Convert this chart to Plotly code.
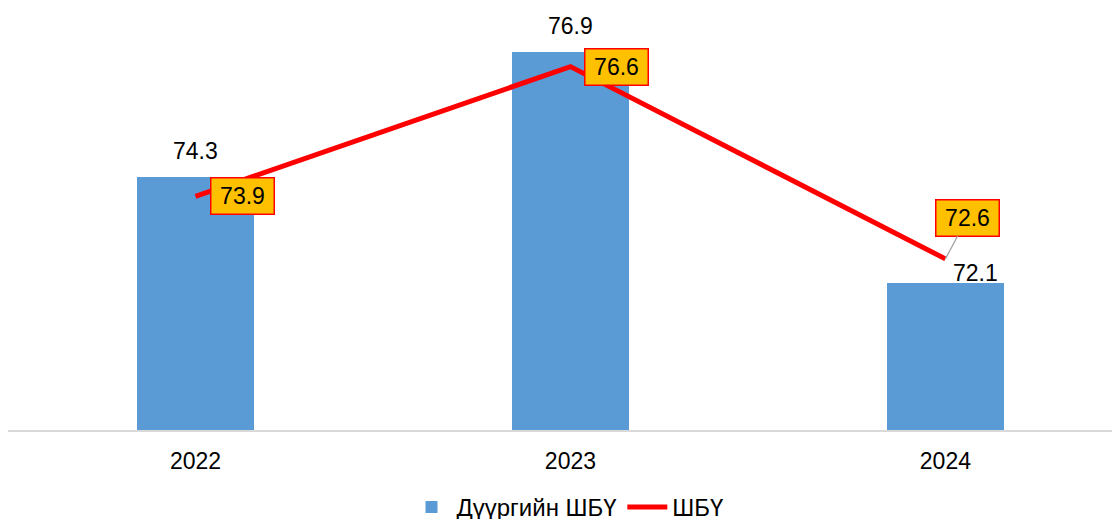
import plotly.graph_objects as go

years = ["2022", "2023", "2024"]
district_values = [74.3, 76.9, 72.1]
national_values = [73.9, 76.6, 72.6]

bar_name = "Дүүргийн ШБҮ"
line_name = "ШБҮ"

FONT = "Liberation Sans, Arial, sans-serif"

fig = go.Figure()

fig.add_trace(go.Bar(
    x=years,
    y=district_values,
    name=bar_name,
    marker=dict(color="#5B9BD5", line=dict(width=0)),
    width=0.312,
))

fig.add_trace(go.Scatter(
    x=years,
    y=national_values,
    name=line_name,
    mode="lines",
    line=dict(color="#FF0000", width=5),
))

# bar value labels (pixel offsets); x by category index so numbers aren't read as positions
bar_offsets = [(0, 11), (0, 11), (30, -5)]
for i, (v, (dx, dy)) in enumerate(zip(district_values, bar_offsets)):
    fig.add_annotation(
        x=i, y=v, text=f"{v}", showarrow=False,
        xshift=dx, yshift=dy, yanchor="bottom",
        font=dict(family=FONT, size=23, color="#000000"),
    )

# line value labels in orange boxes
box_style = dict(
    bgcolor="#FFC000", bordercolor="#FF0000", borderwidth=1.5, borderpad=2,
    width=58, height=31,
    font=dict(family=FONT, size=23, color="#000000"),
)
line_offsets = [(47, 0, False), (46, 0, False), (22, -41, True)]
for i, (v, (dx, dy, arrow)) in enumerate(zip(national_values, line_offsets)):
    if arrow:
        fig.add_annotation(
            x=i, y=v, text=f"{v}", showarrow=True,
            ax=dx, ay=dy, arrowhead=0, arrowwidth=1.3, arrowcolor="#A6A6A6",
            **box_style,
        )
    else:
        fig.add_annotation(
            x=i, y=v, text=f"{v}", showarrow=False,
            xshift=dx, yshift=dy,
            **box_style,
        )

fig.update_layout(
    width=1120,
    height=519,
    margin=dict(l=0, r=0, t=0, b=97, autoexpand=False),
    plot_bgcolor="white",
    paper_bgcolor="white",
    font=dict(family=FONT, size=24, color="#000000"),
    showlegend=True,
    legend=dict(
        orientation="h", x=0.5, xanchor="center",
        yref="container", y=0.038, yanchor="middle",
        font=dict(family=FONT, size=24), traceorder="normal",
        itemwidth=40,
    ),
    bargap=0,
)

fig.update_xaxes(
    type="category",
    range=[-0.5, 2.487],
    showline=True, linecolor="#D9D9D9", linewidth=2,
    showgrid=False, ticks="",
    ticklabelstandoff=9,
    tickfont=dict(family=FONT, size=23),
)
fig.update_yaxes(
    range=[69.04, 77.82],
    visible=False,
    showgrid=False,
)

fig.write_html("out.html")
